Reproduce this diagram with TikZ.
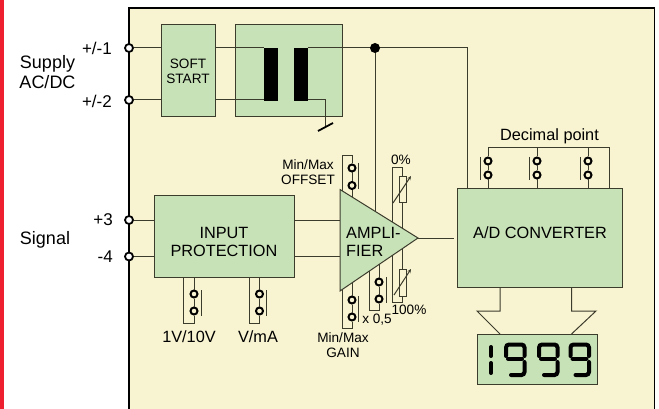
\documentclass[tikz,border=0pt]{standalone}
\usepackage{fontspec}
\usepackage{xcolor}
\setmainfont{Liberation Sans}
\usetikzlibrary{arrows.meta, positioning}
\definecolor{mypanel}{RGB}{248, 243, 208}
\definecolor{mygreen}{RGB}{200, 226, 184}
\definecolor{myred}{RGB}{238, 32, 48}
\definecolor{mywire}{RGB}{60, 60, 45}
\begin{document}
\begin{tikzpicture}[x=1pt,y=-1pt,
          box/.style={draw=mywire,fill=mygreen,line width=1pt,inner sep=0pt},
          wire/.style={draw=mywire,line width=1pt},
          pin/.style={circle,draw=black,fill=mypanel,line width=2pt,inner sep=0pt,minimum size=7pt},
          jack/.style={circle,draw=black,fill=white,line width=1.8pt,inner sep=0pt,minimum size=8pt},
          coil/.style={fill=black,inner sep=0pt,minimum width=14pt,minimum height=53pt},
          seg/.style={line width=4pt,line cap=round,rounded corners=3pt},
          big/.style={inner sep=0pt,font=\fontsize{18}{20}\selectfont,align=center},
          mid/.style={inner sep=0pt,font=\fontsize{16.3}{18}\selectfont,align=center},
          tiny/.style={inner sep=0pt,font=\fontsize{13.6}{15}\selectfont,align=center}]
        \useasboundingbox (0,0) rectangle (659,409);
        % panel
        \fill[myred] (0,0) rectangle (4,409);
        \fill[mypanel] (129,8) rectangle (654.5,409);
        \draw[line width=1.8pt] (129,409) -- (129,8) -- (654.5,8) -- (654.5,409);

        % blocks
        \node[box,minimum width=54pt,minimum height=92pt](soft) at (188,71) {};
        \node[box,minimum width=107pt,minimum height=92pt](trafo) at (288.5,71) {};
        \node[box,minimum width=140pt,minimum height=81pt](prot) at (224,236.5) {};
        \node[box,minimum width=165pt,minimum height=98pt](adc) at (539.5,238) {};
        \node[box,minimum width=120pt,minimum height=50pt](lcd) at (537,359) {};
        \node[coil](coila) at (271,74.5) {};
        \node[coil](coilb) at (300.5,74.5) {};

        % terminals
        \node[jack](t1) at (129,48) {};
        \node[jack](t2) at (129,100) {};
        \node[jack](t3) at (129,220) {};
        \node[jack](t4) at (129,256.5) {};
        \coordinate (dot) at (375,48);
        \coordinate (gnd) at (325,127);
        \coordinate (amptip) at (418,238);

        % supply
        \draw[wire] (t1) -- (t1 -| soft.west);
        \draw[wire] (t2) -- (t2 -| soft.west);
        \draw[wire] (soft.east |- t1) -- (t1 -| coila.west);
        \draw[wire] (soft.east |- t2) -- (t2 -| coila.west);
        \draw[wire] (coilb.east |- t1) -| (adc.north -| 467,0);
        \draw[wire] (coilb.east |- t2) -| (gnd);
        \draw[line width=1.8pt] (318,131) -- (333,123);
        \draw[wire] (dot) -- (375,215);
        \fill (dot) circle (5);

        % signal
        \draw[wire] (t3) -- (t3 -| prot.west);
        \draw[wire] (t4) -- (t4 -| prot.west);
        \draw[wire] (prot.east |- t3) -- (345,220);
        \draw[wire] (prot.east |- t4) -- (345,256.5);
        \draw[wire] (amptip) -- (454,238);

        % range jumpers below the protection block
        \foreach \n/\x in {r/194,m/259.5}{
          \node[pin](\n a) at (\x,294) {};
          \node[pin](\n b) at (\x,311) {};
          \draw[wire] (\n a) -- (\n a |- prot.south);
          \draw[wire] (\n a) -- (\n b);
          \draw[wire] (\n b) -- (\x,323) -- (\x-10.5,323) -- (\x-10.5,277);
          \draw[wire] (\x+7,290) -- (\x+7,316);
        }

        % amplifier jumpers
        \node[pin](oa) at (352,168) {};
        \node[pin](ob) at (352,185.5) {};
        \draw[wire] (oa) -- (ob) (ob) -- (352,200);
        \draw[wire] (oa) -- (352,156) -- (342,156) -- (342,195);
        \draw[wire] (358,163) -- (358,189);
        \node[pin](ga) at (352,300) {};
        \node[pin](gb) at (352,317) {};
        \draw[wire] (ga) -- (gb) (ga) -- (352,280);
        \draw[wire] (gb) -- (352,328) -- (342,328) -- (342,285);
        \draw[wire] (358,296) -- (358,322);
        \node[pin](xa) at (379,282) {};
        \node[pin](xb) at (379,299) {};
        \draw[wire] (xa) -- (xb) (xa) -- (379,260);
        \draw[wire] (xb) -- (379,310) -- (369,310) -- (369,265);
        \draw[wire] (386,277) -- (386,303);

        % trimmers
        \node[box,fill=mypanel,minimum width=7pt,minimum height=26pt](pota) at (402.5,190) {};
        \node[box,fill=mypanel,minimum width=7pt,minimum height=27pt](potb) at (402.5,282.5) {};
        \draw[wire] (pota.south) -- (402.5,235);
        \draw[wire] (pota.north) -- (402.5,168) -- (392,168) -- (392,228);
        \draw[wire] (potb.north) -- (402.5,240);
        \draw[wire] (potb.south) -- (402.5,302) -- (392,302) -- (392,250);
        \draw[wire,-{Stealth[length=4pt,width=3.5pt]}] (393,203) -- (411,176);
        \draw[wire,-{Stealth[length=4pt,width=3.5pt]}] (394,295) -- (411,269);

        % amplifier
        \draw[draw=mywire,fill=mygreen,line width=1pt,line join=miter] (340,189.5) -- (340,291) -- (amptip) -- cycle;

        % decimal point
        \foreach \n/\x in {da/488,db/537,dc/588}{
          \node[pin](\n a) at (\x,161) {};
          \node[pin](\n b) at (\x,175) {};
          \draw[wire] (\n a) -- (\x,148);
          \draw[wire] (\n a) -- (\n b);
          \draw[wire] (\n b) -- (\n b |- adc.north);
          \draw[wire] (\x-7.5,157) -- (\x-7.5,180);
        }
        \draw[wire] (488,148) -- (609,148) -- (609,189);

        % outputs to display
        \draw[wire] (500,287) -- (500,311) -- (477,311) -- (500,334);
        \draw[wire] (571.5,287) -- (571.5,311) -- (596,311) -- (571.5,334);

        % display digits
        \draw[seg] (491,347) -- (491,356);
        \draw[seg] (491,363) -- (491,373);
        \foreach \x in {506,539,570.5}{
          \draw[seg] (\x,356) -- (\x,344.5) -- (\x+18.5,344.5) -- (\x+18.5,356);
          \draw[seg] (\x+2,358.5) -- (\x+16,358.5);
          \draw[seg] (\x+18.5,362) -- (\x+18.5,375) -- (\x+5,375);
        }

        % labels
        \node[big](supply) at (47.5,72.5) {Supply\\AC/DC};
        \node[big](signal) at (45,239.5) {Signal};
        \node[mid,font=\fontsize{17}{20}\selectfont,anchor=east](l1) at (112,48) {+/-1};
        \node[mid,font=\fontsize{17}{20}\selectfont,anchor=east](l2) at (112,101) {+/-2};
        \node[mid,font=\fontsize{17}{20}\selectfont,anchor=east](l3) at (113,220) {+3};
        \node[mid,font=\fontsize{17}{20}\selectfont,anchor=east](l4) at (113,257) {-4};
        \node[tiny](softl) at (soft) {SOFT\\START};
        \node[mid](protl) at (224,242) {INPUT\\PROTECTION};
        \node[mid,align=left,anchor=west](ampl) at (346,242) {AMPLI-\\FIER};
        \node[mid](adcl) at (540,233) {A/D CONVERTER};
        \node[mid](decl) at (549.5,136) {Decimal point};
        \node[tiny](offl) at (308,172.5) {Min/Max\\OFFSET};
        \node[tiny](gainl) at (343,345.5) {Min/Max\\GAIN};
        \node[tiny](zerol) at (401,160) {0\%};
        \node[tiny](fulll) at (409,310) {100\%};
        \node[tiny](halfl) at (377,320) {x 0,5};
        \node[mid](rngl) at (189,337) {1V/10V};
        \node[mid](vmal) at (258,337) {V/mA};
      \end{tikzpicture}
\end{document}
